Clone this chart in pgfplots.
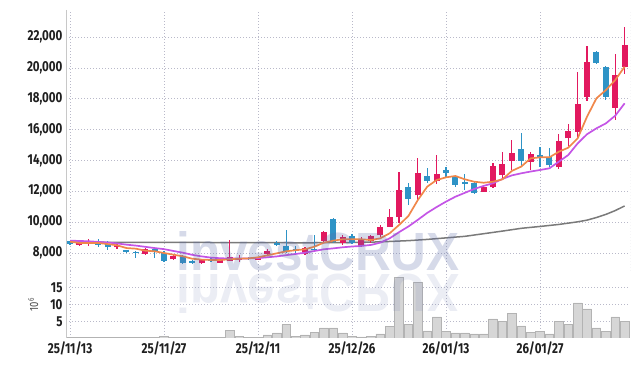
\documentclass[border=0pt]{standalone}
\usepackage{fontspec}
\setmainfont{Fira Sans}
\newfontfamily\tickfont{Fira Sans}[FakeStretch=0.8]
\newfontfamily\wmfont{Liberation Sans}
\usepackage{graphicx}
\usepackage{pgfplots}
\pgfplotsset{compat=1.18}
\usepackage{pgfplotstable}
\definecolor{upc}{HTML}{E2195F}
\definecolor{dnc}{HTML}{2E93C6}
\definecolor{maO}{HTML}{F0874A}
\definecolor{maP}{HTML}{C455E6}
\definecolor{maG}{HTML}{7A7A7A}
\definecolor{gridc}{HTML}{B9B9C9}
\definecolor{framec}{HTML}{C8C8C8}
\definecolor{volf}{HTML}{D6D6D6}
\definecolor{vold}{HTML}{B3B3B3}
\definecolor{wm}{HTML}{5A6AA8}
\newcommand\tf{\tickfont\bfseries\fontsize{14.5}{16}\selectfont}

\pgfplotstableread{
i O H L C
1 8540 8860 8430 8710
2 8580 8900 8430 8760
5 8370 8650 8280 8540
8 7955 8330 7890 8240
11 7610 7890 7560 7825
14 7330 7640 7300 7610
16 7370 7580 7340 7550
17 7500 8860 7460 7760
18 7560 7850 7440 7700
20 7560 7740 7530 7700
21 7935 8280 7890 8150
25 7915 8410 7860 8345
27 8800 9445 8735 9360
29 8670 9165 8520 9060
31 8475 9015 8370 8890
32 8800 9165 8670 9100
33 9145 9795 9060 9700
34 9700 10830 9665 10350
35 10310 13270 9965 12080
37 11740 14140 11390 13165
39 12685 14350 12470 13120
44 11975 12330 11930 12260
45 12260 13850 12190 13630
46 13080 14545 12730 13770
47 13980 15300 13400 14480
49 13920 14525 13380 14395
52 13555 15715 13445 15260
53 15435 16360 14935 15910
54 15860 19750 15370 17660
55 18130 21415 17870 20360
58 17415 20900 16620 19535
59 20075 22630 19600 21480
}\up

\pgfplotstableread{
i O H L C
0 8750 8780 8560 8600
3 8800 8930 8370 8540
4 8580 8800 8190 8370
6 8190 8220 8020 8045
7 8070 8150 7700 8000
9 8240 8320 7650 8065
10 8020 8110 7460 7500
12 7825 7860 7330 7370
13 7460 7550 7310 7380
15 7590 7720 7400 7510
19 7700 7740 7590 7620
22 8620 8760 8430 8540
23 8435 9510 8000 8110
24 8280 8455 7980 8100
26 8240 9165 8120 8180
28 10200 10260 8700 8735
30 9100 9230 8580 8670
36 12260 12520 11090 11520
38 12990 13480 12520 12685
40 13380 13550 12840 13200
41 12905 13055 12300 12425
42 12570 13120 12080 12490
43 12515 12625 11825 11910
48 14740 15760 13595 13980
50 14350 14890 13595 14200
51 14240 14785 13595 13700
56 21025 21090 20300 20330
57 20075 20140 17915 18130
}\down

\pgfplotstableread{
i v
0 8730
1 8650
2 8650
3 8650
4 8580
5 8500
6 8320
7 8280
8 8150
9 8110
10 8000
11 7890
12 7785
13 7630
14 7570
15 7550
16 7550
17 7590
18 7630
19 7650
20 7720
21 7850
22 7980
23 8110
24 8180
25 8240
26 8410
27 8670
28 8800
29 8890
30 8890
31 8890
32 8840
33 8950
34 9275
35 9815
36 10400
37 11435
38 12300
39 12730
40 12905
41 12990
42 12775
43 12620
44 12555
45 12620
46 12775
47 13320
48 13600
49 14135
50 14200
51 14200
52 14565
53 14825
54 15430
55 16840
56 18025
57 18560
58 19210
59 20075
}\maO

\pgfplotstableread{
i v
0 8800
1 8780
2 8760
3 8720
4 8680
5 8620
6 8540
7 8480
8 8400
9 8320
10 8250
11 8130
12 8020
13 7880
14 7780
15 7700
16 7660
17 7640
18 7640
19 7650
20 7670
21 7720
22 7780
23 7860
24 7935
25 8020
26 8130
27 8240
28 8300
29 8370
30 8420
31 8460
32 8520
33 8670
34 8950
35 9350
36 9720
37 10150
38 10600
39 10980
40 11330
41 11650
42 11900
43 12150
44 12350
45 12520
46 12800
47 13030
48 13165
49 13280
50 13380
51 13490
52 13920
53 14350
54 15100
55 15700
56 16080
57 16400
58 16900
59 17700
}\maP

\pgfplotstableread{
i v
0 8700
5 8695
10 8690
15 8680
20 8670
25 8660
30 8680
33 8720
36 8800
38 8880
40 8980
42 9080
44 9250
46 9420
48 9600
50 9720
52 9850
54 10020
55 10130
56 10300
57 10500
58 10750
59 11050
}\maG

\pgfplotstableread{
i v
0 0.1
1 0.1
2 0.1
3 0.1
4 0.1
5 0.1
6 0.1
7 0.1
8 0.1
9 0.1
10 0.4
11 0.1
12 0.1
13 0.1
14 0.1
15 0.1
16 0.1
17 2.2
18 0.4
19 0.1
20 0.1
21 0.9
22 1.5
23 4.0
24 0.4
25 0.9
26 1.6
27 3.0
28 3.0
29 1.5
30 0.4
31 0.3
32 0.4
33 1.2
34 3.5
35 18.0
36 4.0
37 16.5
38 2.1
39 6.3
40 1.9
41 1.5
42 1.5
43 1.2
44 1.2
45 5.7
46 4.9
47 7.3
48 3.6
49 1.7
50 1.9
51 1.2
52 4.9
53 4.0
54 10.5
55 8.7
56 3.0
57 1.9
58 6.3
59 5.0
}\vol

\pgfplotsset{
  common/.style={
    scale only axis, width=564bp,
    xmin=-0.43, xmax=59.57,
    axis line style={draw=none},
    grid=major,
    major grid style={gridc, line width=0.6bp, dash pattern=on 1bp off 2bp},
    xtick={0,10,20,30,40,50},
    tick style={draw=none},
    ticklabel style={font=\tf, text=black!88},
    scaled y ticks=false,
    /pgf/number format/fixed,
    /pgf/number format/1000 sep={,},
    /pgf/number format/assume math mode=true,
  },
  candle/.style={only marks, mark=*, mark size=0pt, mark options={draw=none, fill=none},
    error bars/y explicit, error bars/error mark=none},
}

\begin{document}
\begin{tikzpicture}
\useasboundingbox (0,0) rectangle (639bp,366bp);
\begin{axis}[common,
  at={(66bp,95bp)}, anchor=south west, height=261bp,
  ymin=6833, ymax=23750,
  ytick={8000,10000,...,22000},
  xticklabels={},
]
\draw[gridc, line width=0.6bp, dash pattern=on 1bp off 2bp] (rel axis cs:1,0) -- (rel axis cs:1,1);
\addplot[maG, line width=1.5bp] table[x=i, y=v] {\maG};
% wicks
\addplot[candle, error bars/y dir=both, error bars/error bar style={line width=1.2bp, draw=upc}]
  table[x=i, y=C, y error plus expr=\thisrow{H}-\thisrow{C}, y error minus expr=\thisrow{C}-\thisrow{L}] {\up};
\addplot[candle, error bars/y dir=both, error bars/error bar style={line width=1.2bp, draw=dnc}]
  table[x=i, y=C, y error plus expr=\thisrow{H}-\thisrow{C}, y error minus expr=\thisrow{C}-\thisrow{L}] {\down};
% bodies
\addplot[candle, error bars/y dir=plus, error bars/error bar style={line width=6bp, draw=upc}]
  table[x=i, y=O, y error plus expr=\thisrow{C}-\thisrow{O}] {\up};
\addplot[candle, error bars/y dir=plus, error bars/error bar style={line width=6bp, draw=dnc}]
  table[x=i, y=C, y error plus expr=\thisrow{O}-\thisrow{C}] {\down};
\addplot[maP, line width=1.7bp] table[x=i, y=v] {\maP};
\addplot[maO, line width=1.7bp] table[x=i, y=v] {\maO};
\draw[framec, line width=0.9bp] (rel axis cs:0,1) -- (rel axis cs:0,0) -- (rel axis cs:1,0);
\end{axis}

\begin{axis}[common,
  at={(66bp,28bp)}, anchor=south west, height=67bp,
  ymin=0, ymax=20,
  ytick={5,10,15},
  xticklabels={25/11/13,25/11/27,25/12/11,25/12/26,26/01/13,26/01/27},
  ylabel={10\textsuperscript{6}},
  ylabel style={at={(axis description cs:-0.058,0.5)}, anchor=center,
    font=\tickfont\fontsize{12}{14}\selectfont, text=black!70},
]
\draw[gridc, line width=0.6bp, dash pattern=on 1bp off 2bp] (rel axis cs:1,0) -- (rel axis cs:1,1);
\addplot[ybar, bar width=0.92, bar shift=0, fill=volf, draw=vold, line width=0.6bp] table[x=i, y=v] {\vol};
\draw[framec, line width=0.9bp] (rel axis cs:0,1) -- (rel axis cs:0,0) -- (rel axis cs:1,0);
\end{axis}

\node[anchor=base, inner sep=0, text=wm, opacity=0.25, font=\wmfont\bfseries\fontsize{54}{54}\selectfont]
  at (318bp,95bp) {\scalebox{0.92}[1]{investCRUX}};
\node[anchor=base, inner sep=0, text=wm, opacity=0.12, font=\wmfont\bfseries\fontsize{54}{54}\selectfont]
  at (318bp,91bp) {\scalebox{0.92}[-1]{investCRUX}};
\end{tikzpicture}
\end{document}
